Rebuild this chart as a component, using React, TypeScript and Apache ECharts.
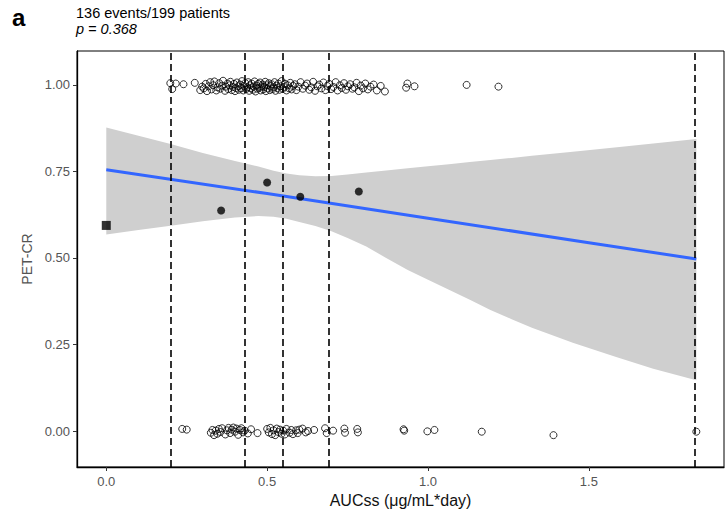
import React, { useEffect, useRef } from "react";
import * as echarts from "echarts";

// ---- data ----
const xTicks = [0, 0.5, 1.0, 1.5];
const yTicks = [0, 0.25, 0.5, 0.75, 1.0];
const cutPoints = [0.2, 0.431, 0.547, 0.687, 1.834];

const fitX = [0, 0.5, 1.0, 1.5, 1.834];
const fitY = [0.755, 0.686, 0.615, 0.544, 0.497];

const ribbonX = [0, 0.1, 0.2, 0.3, 0.4, 0.473, 0.52, 0.56, 0.6, 0.65, 0.7, 0.75, 0.808, 0.87, 0.937, 1.0, 1.065, 1.13, 1.194, 1.26, 1.323, 1.45, 1.58, 1.7, 1.834];
const ribbonUpper = [0.877, 0.853, 0.829, 0.803, 0.780, 0.764, 0.752, 0.744, 0.739, 0.736, 0.737, 0.741, 0.747, 0.753, 0.759, 0.765, 0.771, 0.777, 0.783, 0.789, 0.795, 0.807, 0.819, 0.831, 0.844];
const ribbonLower = [0.568, 0.581, 0.593, 0.606, 0.617, 0.621, 0.619, 0.613, 0.604, 0.592, 0.577, 0.558, 0.533, 0.500, 0.465, 0.437, 0.408, 0.379, 0.350, 0.323, 0.298, 0.255, 0.215, 0.180, 0.147];

const binMeansX = [0.357, 0.5, 0.603, 0.785];
const binMeansY = [0.637, 0.718, 0.677, 0.692];
const controlX = [0];
const controlY = [0.594];

const responders: number[][] = [
  [0.199, 1.005], [0.216, 1.004], [0.205, 0.988], [0.24, 1.002], [0.275, 1.006],
  [0.292, 0.985], [0.298, 0.995], [0.303, 0.99], [0.309, 1.003], [0.313, 0.982],
  [0.318, 0.996], [0.323, 1.008], [0.327, 0.987], [0.332, 0.999], [0.336, 1.01],
  [0.342, 0.984], [0.346, 0.993], [0.351, 1.005], [0.354, 0.989], [0.36, 0.998],
  [0.363, 1.012], [0.369, 0.983], [0.372, 0.995], [0.377, 1.004], [0.379, 0.988],
  [0.383, 0.999], [0.386, 1.009], [0.39, 0.985], [0.393, 0.994], [0.397, 1.003],
  [0.4, 0.982], [0.403, 0.991], [0.406, 1.007], [0.41, 0.996], [0.412, 0.986],
  [0.416, 1.001], [0.419, 0.99], [0.422, 1.011], [0.426, 0.984], [0.428, 0.997],
  [0.432, 1.005], [0.435, 0.988], [0.438, 0.993], [0.441, 1.008], [0.444, 0.983],
  [0.447, 0.999], [0.45, 0.99], [0.452, 1.004], [0.456, 0.986], [0.458, 0.995],
  [0.461, 1.01], [0.464, 0.981], [0.467, 0.998], [0.469, 0.989], [0.472, 1.003],
  [0.475, 0.992], [0.478, 1.007], [0.48, 0.984], [0.483, 0.996], [0.486, 1.001],
  [0.488, 0.987], [0.491, 0.994], [0.494, 1.009], [0.496, 0.982], [0.499, 0.999],
  [0.502, 0.99], [0.505, 1.005], [0.508, 0.985], [0.511, 0.997], [0.514, 1.002],
  [0.517, 0.988], [0.52, 0.993], [0.523, 1.008], [0.526, 0.983], [0.529, 0.998],
  [0.532, 0.991], [0.535, 1.004], [0.538, 0.986], [0.542, 0.996], [0.545, 1.011],
  [0.549, 0.989], [0.552, 0.994], [0.556, 1.003], [0.56, 0.984], [0.564, 0.999],
  [0.568, 0.99], [0.572, 1.006], [0.576, 0.987], [0.581, 0.997], [0.586, 1.002],
  [0.591, 0.985], [0.597, 0.995], [0.604, 1.008], [0.611, 0.989], [0.618, 0.998],
  [0.624, 1.004], [0.631, 0.986], [0.637, 0.993], [0.643, 1.009], [0.649, 0.983],
  [0.656, 0.996], [0.662, 1.001], [0.669, 0.99], [0.675, 1.007], [0.681, 0.985],
  [0.687, 0.997], [0.693, 1.003], [0.699, 0.988], [0.706, 0.994], [0.713, 1.008],
  [0.719, 0.984], [0.726, 0.999], [0.732, 0.991], [0.739, 1.005], [0.745, 0.986],
  [0.751, 0.996], [0.758, 1.002], [0.765, 0.989], [0.771, 0.993], [0.778, 1.006],
  [0.785, 0.982], [0.791, 0.998], [0.798, 0.99], [0.805, 1.004], [0.813, 0.987],
  [0.821, 0.995], [0.831, 1.001], [0.841, 0.984], [0.853, 0.997], [0.866, 0.981],
  [0.932, 0.992], [0.936, 1.004], [0.958, 0.996], [1.12, 1.0], [1.219, 0.995],
];

const nonResponders: number[][] = [
  [0.236, 0.006], [0.25, 0.004],
  [0.325, -0.005], [0.33, 0.003], [0.335, -0.012], [0.34, 0.001], [0.345, -0.008],
  [0.35, 0.006], [0.355, -0.003], [0.36, 0.008], [0.37, -0.01], [0.375, 0.002],
  [0.38, 0.009], [0.385, -0.006], [0.39, 0.004], [0.395, 0.01], [0.4, -0.002],
  [0.405, 0.007], [0.41, -0.011], [0.415, 0.003], [0.42, 0.008], [0.425, -0.004],
  [0.43, 0.001], [0.44, -0.007], [0.45, 0.005], [0.47, -0.006],
  [0.5, 0.006], [0.505, -0.004], [0.51, 0.009], [0.515, -0.009], [0.52, 0.002],
  [0.525, -0.012], [0.53, 0.007], [0.535, -0.003], [0.54, 0.004], [0.545, -0.008],
  [0.55, 0.001], [0.555, -0.01], [0.56, 0.006], [0.57, -0.005], [0.575, 0.003],
  [0.58, -0.009], [0.59, 0.002], [0.595, -0.006], [0.6, 0.004], [0.61, 0.007],
  [0.62, -0.004], [0.627, 0.0], [0.646, 0.003],
  [0.68, 0.008], [0.685, -0.006], [0.705, 0.001], [0.74, 0.007], [0.742, -0.005],
  [0.78, 0.006], [0.782, -0.004], [0.924, 0.005], [0.926, 0.001], [0.998, -0.001],
  [1.02, 0.003], [1.167, -0.002], [1.39, -0.012], [1.834, -0.002],
];

const FONT = "'Liberation Sans', Arial, sans-serif";

export default function App() {
  const ref = useRef<HTMLDivElement>(null);
  useEffect(() => {
    if (!ref.current) return;
    const chart = echarts.init(ref.current, null, { renderer: "svg" });
    const openCircle = {
      type: "scatter",
      symbol: "circle",
      symbolSize: 7,
      itemStyle: { color: "rgba(255,255,255,0)", borderColor: "#000", borderWidth: 1 },
      silent: true,
      z: 5,
    };
    chart.setOption({
      animation: false,
      textStyle: { fontFamily: FONT },
      grid: {
        left: 77, right: 2, top: 51, bottom: 47,
        show: true, borderColor: "#000", borderWidth: 1, backgroundColor: "#fff",
      },
      xAxis: {
        type: "value",
        min: -0.091,
        max: 1.92,
        name: "AUCss (μg/mL*day)",
        nameLocation: "middle",
        nameGap: 23,
        nameTextStyle: { fontSize: 16, color: "#111", fontFamily: FONT },
        axisLine: { show: true, onZero: false, lineStyle: { color: "#000", width: 1.3 } },
        axisTick: { show: true, customValues: xTicks, length: 4, lineStyle: { color: "#333" } },
        axisLabel: {
          customValues: xTicks,
          formatter: (v: number) => v.toFixed(1),
          color: "#555",
          fontSize: 13,
          margin: 8,
          fontFamily: FONT,
        },
        splitLine: { show: false },
      },
      yAxis: {
        type: "value",
        min: -0.104,
        max: 1.098,
        name: "PET-CR",
        nameLocation: "middle",
        nameGap: 36,
        nameTextStyle: { fontSize: 14, color: "#555", fontFamily: FONT },
        axisLine: { show: true, onZero: false, lineStyle: { color: "#000", width: 1.3 } },
        axisTick: { show: true, customValues: yTicks, length: 4, lineStyle: { color: "#333" } },
        axisLabel: {
          customValues: yTicks,
          formatter: (v: number) => v.toFixed(2),
          color: "#555",
          fontSize: 13,
          margin: 7,
          fontFamily: FONT,
        },
        splitLine: { show: false },
      },
      graphic: [
        { type: "text", left: 12, top: 5, style: { text: "a", font: `bold 24px ${FONT}`, fill: "#000" } },
        { type: "text", left: 76, top: 5, style: { text: "136 events/199 patients", font: `14.5px ${FONT}`, fill: "#000" } },
        { type: "text", left: 76, top: 21, style: { text: "p = 0.368", font: `italic 14.5px ${FONT}`, fill: "#000" } },
      ],
      series: [
        {
          type: "custom",
          silent: true,
          z: 1,
          data: [[0, 0.5]],
          encode: { x: 0, y: 1 },
          renderItem: (_params: any, api: any) => {
            const pts: number[][] = [];
            for (let i = 0; i < ribbonX.length; i++) pts.push(api.coord([ribbonX[i], ribbonUpper[i]]));
            for (let i = ribbonX.length - 1; i >= 0; i--) pts.push(api.coord([ribbonX[i], ribbonLower[i]]));
            return { type: "polygon", shape: { points: pts }, style: { fill: "#cfcfcf" } };
          },
        },
        {
          type: "line",
          data: [],
          z: 2,
          silent: true,
          markLine: {
            silent: true,
            symbol: ["none", "none"],
            label: { show: false },
            lineStyle: { color: "#000", type: [7, 4], width: 1.6 },
            data: cutPoints.map((v) => ({ xAxis: v })),
          },
        },
        {
          type: "line",
          data: fitX.map((x, i) => [x, fitY[i]]),
          showSymbol: false,
          silent: true,
          z: 3,
          lineStyle: { color: "#3366FF", width: 3 },
        },
        { ...openCircle, data: responders },
        { ...openCircle, data: nonResponders },
        {
          type: "scatter",
          symbol: "circle",
          symbolSize: 8,
          z: 6,
          silent: true,
          itemStyle: { color: "#000" },
          data: binMeansX.map((x, i) => [x, binMeansY[i]]),
        },
        {
          type: "scatter",
          symbol: "rect",
          symbolSize: 9,
          z: 6,
          silent: true,
          itemStyle: { color: "#000" },
          data: controlX.map((x, i) => [x, controlY[i]]),
        },
      ],
    });
    return () => chart.dispose();
  }, []);
  return (
    <div
      ref={ref}
      style={{ position: "fixed", left: 0, top: 0, width: 726, height: 514, background: "#fff" }}
    />
  );
}
